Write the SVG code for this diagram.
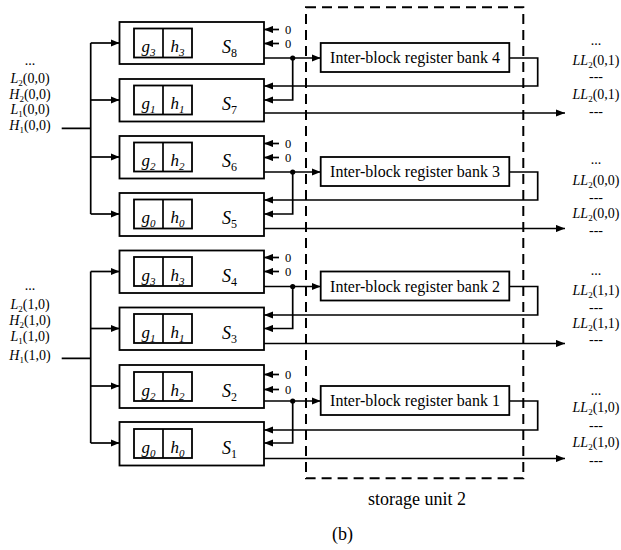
<svg xmlns="http://www.w3.org/2000/svg" width="621" height="550" viewBox="0 0 621 550">
<defs>
<style>
.box{fill:#fff;stroke:#000;stroke-width:1.8}
.ln{fill:none;stroke:#000;stroke-width:1.7}
.ar{fill:none;stroke:#000;stroke-width:1.7;marker-end:url(#ah)}
.t{font-family:"Liberation Serif","Times New Roman",serif;fill:#000}
.it{font-style:italic}
.gh{font-size:17px;text-anchor:middle}
.sn{font-size:18px;text-anchor:middle}
.lab{font-size:14px;text-anchor:middle}
.bank{font-size:16px;text-anchor:middle}
.zero{font-size:12.5px}
.dash{fill:none;stroke:#000;stroke-width:2;stroke-dasharray:10 6}
</style>
<marker id="ah" viewBox="0 0 10 8" refX="10" refY="4" markerWidth="9" markerHeight="7.5" orient="auto" markerUnits="userSpaceOnUse">
<path d="M0,0 L10,4 L0,8 z" fill="#000"/>
</marker>
</defs>
<rect width="621" height="550" fill="#fff"/>

<g id="storage-unit-2">
<rect class="dash" x="306" y="7.3" width="217.3" height="471"/>
<text class="t" x="417" y="505" font-size="18" text-anchor="middle">storage unit 2</text>
</g>

<g id="connectors">
<path class="ln" d="M61.7,128.3 H90.7 M90.7,43 V214"/>
<path class="ar" d="M90.7,43 H119.5"/>
<path class="ar" d="M90.7,100 H119.5"/>
<path class="ar" d="M90.7,157 H119.5"/>
<path class="ar" d="M90.7,214 H119.5"/>
<path class="ln" d="M61.7,358.3 H90.7 M90.7,271.5 V443"/>
<path class="ar" d="M90.7,271.5 H119.5"/>
<path class="ar" d="M90.7,328.5 H119.5"/>
<path class="ar" d="M90.7,386 H119.5"/>
<path class="ar" d="M90.7,443 H119.5"/>

<path class="ar" d="M279,29.5 H264"/>
<path class="ar" d="M279,43.5 H264"/>
<path class="ar" d="M264,58 H320.7"/>
<circle cx="292.7" cy="58" r="2.6" fill="#000"/>
<path class="ar" d="M292.7,58 V100 H264"/>
<path class="ar" d="M509.3,58 H537.7 V86 H264"/>
<path class="ar" d="M264,113 H565"/>

<path class="ar" d="M279,143.5 H264"/>
<path class="ar" d="M279,157.5 H264"/>
<path class="ar" d="M264,172 H320.7"/>
<circle cx="292.7" cy="172" r="2.6" fill="#000"/>
<path class="ar" d="M292.7,172 V214 H264"/>
<path class="ar" d="M509.3,172 H537.7 V200 H264"/>
<path class="ar" d="M264,228.5 H565"/>

<path class="ar" d="M279,257.5 H264"/>
<path class="ar" d="M279,271.5 H264"/>
<path class="ar" d="M264,286.5 H320.7"/>
<circle cx="292.7" cy="286.5" r="2.6" fill="#000"/>
<path class="ar" d="M292.7,286.5 V328.5 H264"/>
<path class="ar" d="M509.3,286.5 H537.7 V315 H264"/>
<path class="ar" d="M264,343.5 H565"/>

<path class="ar" d="M279,374.5 H264"/>
<path class="ar" d="M279,389.5 H264"/>
<path class="ar" d="M264,401 H320.7"/>
<circle cx="292.7" cy="401" r="2.6" fill="#000"/>
<path class="ar" d="M292.7,401 V443 H264"/>
<path class="ar" d="M509.3,401 H537.7 V430 H264"/>
<path class="ar" d="M264,458.5 H565"/>
</g>

<g id="zeros" class="t zero">
<text x="285" y="34">0</text><text x="285" y="48">0</text>
<text x="285" y="148">0</text><text x="285" y="162">0</text>
<text x="285" y="262">0</text><text x="285" y="276">0</text>
<text x="285" y="379">0</text><text x="285" y="394">0</text>
</g>

<g id="S8">
<rect class="box" x="119.5" y="22" width="144.5" height="42"/>
<rect class="box" x="134" y="28.5" width="58" height="29"/><path class="ln" d="M163,28.5 V57.5"/>
<text class="t gh" x="148.5" y="52"><tspan class="it">g</tspan><tspan class="it" font-size="11" dy="4">3</tspan></text>
<text class="t gh" x="177.5" y="52"><tspan class="it">h</tspan><tspan class="it" font-size="11" dy="4">3</tspan></text>
<text class="t sn" x="229.5" y="53"><tspan class="it">S</tspan><tspan font-size="12" dy="4">8</tspan></text>
</g>
<g id="S7">
<rect class="box" x="119.5" y="79" width="144.5" height="42.5"/>
<rect class="box" x="134" y="85.5" width="58" height="29"/><path class="ln" d="M163,85.5 V114.5"/>
<text class="t gh" x="148.5" y="109"><tspan class="it">g</tspan><tspan class="it" font-size="11" dy="4">1</tspan></text>
<text class="t gh" x="177.5" y="109"><tspan class="it">h</tspan><tspan class="it" font-size="11" dy="4">1</tspan></text>
<text class="t sn" x="229.5" y="110"><tspan class="it">S</tspan><tspan font-size="12" dy="4">7</tspan></text>
</g>
<g id="S6">
<rect class="box" x="119.5" y="136" width="144.5" height="42.5"/>
<rect class="box" x="134" y="142.5" width="58" height="29"/><path class="ln" d="M163,142.5 V171.5"/>
<text class="t gh" x="148.5" y="166"><tspan class="it">g</tspan><tspan class="it" font-size="11" dy="4">2</tspan></text>
<text class="t gh" x="177.5" y="166"><tspan class="it">h</tspan><tspan class="it" font-size="11" dy="4">2</tspan></text>
<text class="t sn" x="229.5" y="167"><tspan class="it">S</tspan><tspan font-size="12" dy="4">6</tspan></text>
</g>
<g id="S5">
<rect class="box" x="119.5" y="193" width="144.5" height="43"/>
<rect class="box" x="134" y="199.5" width="58" height="29"/><path class="ln" d="M163,199.5 V228.5"/>
<text class="t gh" x="148.5" y="223"><tspan class="it">g</tspan><tspan class="it" font-size="11" dy="4">0</tspan></text>
<text class="t gh" x="177.5" y="223"><tspan class="it">h</tspan><tspan class="it" font-size="11" dy="4">0</tspan></text>
<text class="t sn" x="229.5" y="224"><tspan class="it">S</tspan><tspan font-size="12" dy="4">5</tspan></text>
</g>
<g id="S4">
<rect class="box" x="119.5" y="250.5" width="144.5" height="42.5"/>
<rect class="box" x="134" y="257" width="58" height="29"/><path class="ln" d="M163,257 V286"/>
<text class="t gh" x="148.5" y="280.5"><tspan class="it">g</tspan><tspan class="it" font-size="11" dy="4">3</tspan></text>
<text class="t gh" x="177.5" y="280.5"><tspan class="it">h</tspan><tspan class="it" font-size="11" dy="4">3</tspan></text>
<text class="t sn" x="229.5" y="281.5"><tspan class="it">S</tspan><tspan font-size="12" dy="4">4</tspan></text>
</g>
<g id="S3">
<rect class="box" x="119.5" y="307.5" width="144.5" height="42.5"/>
<rect class="box" x="134" y="314" width="58" height="29"/><path class="ln" d="M163,314 V343"/>
<text class="t gh" x="148.5" y="337.5"><tspan class="it">g</tspan><tspan class="it" font-size="11" dy="4">1</tspan></text>
<text class="t gh" x="177.5" y="337.5"><tspan class="it">h</tspan><tspan class="it" font-size="11" dy="4">1</tspan></text>
<text class="t sn" x="229.5" y="338.5"><tspan class="it">S</tspan><tspan font-size="12" dy="4">3</tspan></text>
</g>
<g id="S2">
<rect class="box" x="119.5" y="365" width="144.5" height="43"/>
<rect class="box" x="134" y="372" width="58" height="29"/><path class="ln" d="M163,372 V401"/>
<text class="t gh" x="148.5" y="395.5"><tspan class="it">g</tspan><tspan class="it" font-size="11" dy="4">2</tspan></text>
<text class="t gh" x="177.5" y="395.5"><tspan class="it">h</tspan><tspan class="it" font-size="11" dy="4">2</tspan></text>
<text class="t sn" x="229.5" y="396.5"><tspan class="it">S</tspan><tspan font-size="12" dy="4">2</tspan></text>
</g>
<g id="S1">
<rect class="box" x="119.5" y="422" width="144.5" height="43.5"/>
<rect class="box" x="134" y="429" width="58" height="29"/><path class="ln" d="M163,429 V458"/>
<text class="t gh" x="148.5" y="452.5"><tspan class="it">g</tspan><tspan class="it" font-size="11" dy="4">0</tspan></text>
<text class="t gh" x="177.5" y="452.5"><tspan class="it">h</tspan><tspan class="it" font-size="11" dy="4">0</tspan></text>
<text class="t sn" x="229.5" y="453.5"><tspan class="it">S</tspan><tspan font-size="12" dy="4">1</tspan></text>
</g>

<g id="bank4">
<rect class="box" x="320.7" y="43" width="188.6" height="29"/>
<text class="t bank" x="415" y="63">Inter-block register bank 4</text>
</g>
<g id="bank3">
<rect class="box" x="320.7" y="157" width="188.6" height="29"/>
<text class="t bank" x="415" y="177">Inter-block register bank 3</text>
</g>
<g id="bank2">
<rect class="box" x="320.7" y="271.5" width="188.6" height="29"/>
<text class="t bank" x="415" y="291.5">Inter-block register bank 2</text>
</g>
<g id="bank1">
<rect class="box" x="320.7" y="386" width="188.6" height="29"/>
<text class="t bank" x="415" y="406">Inter-block register bank 1</text>
</g>

<g id="inputs-top" class="t lab">
<text x="30" y="64.5">...</text>
<text x="30" y="83"><tspan class="it">L</tspan><tspan font-size="9" dy="3">2</tspan><tspan dy="-3">(0,0)</tspan></text>
<text x="30" y="98.5"><tspan class="it">H</tspan><tspan font-size="9" dy="3">2</tspan><tspan dy="-3">(0,0)</tspan></text>
<text x="30" y="114"><tspan class="it">L</tspan><tspan font-size="9" dy="3">1</tspan><tspan dy="-3">(0,0)</tspan></text>
<text x="30" y="129.5"><tspan class="it">H</tspan><tspan font-size="9" dy="3">1</tspan><tspan dy="-3">(0,0)</tspan></text>
</g>
<g id="inputs-bottom" class="t lab">
<text x="30" y="289.5">...</text>
<text x="30" y="308.5"><tspan class="it">L</tspan><tspan font-size="9" dy="3">2</tspan><tspan dy="-3">(1,0)</tspan></text>
<text x="30" y="324.5"><tspan class="it">H</tspan><tspan font-size="9" dy="3">2</tspan><tspan dy="-3">(1,0)</tspan></text>
<text x="30" y="341"><tspan class="it">L</tspan><tspan font-size="9" dy="3">1</tspan><tspan dy="-3">(1,0)</tspan></text>
<text x="30" y="359.5"><tspan class="it">H</tspan><tspan font-size="9" dy="3">1</tspan><tspan dy="-3">(1,0)</tspan></text>
</g>

<g id="outputs-4" class="t lab">
<text x="596" y="45">...</text>
<text x="596" y="64.5"><tspan class="it">LL</tspan><tspan font-size="9" dy="3">2</tspan><tspan dy="-3">(0,1)</tspan></text>
<text x="596" y="81">---</text>
<text x="596" y="98.5"><tspan class="it">LL</tspan><tspan font-size="9" dy="3">2</tspan><tspan dy="-3">(0,1)</tspan></text>
<text x="596" y="115.5">---</text>
</g>
<g id="outputs-3" class="t lab">
<text x="596" y="164">...</text>
<text x="596" y="185"><tspan class="it">LL</tspan><tspan font-size="9" dy="3">2</tspan><tspan dy="-3">(0,0)</tspan></text>
<text x="596" y="201.5">---</text>
<text x="596" y="217.5"><tspan class="it">LL</tspan><tspan font-size="9" dy="3">2</tspan><tspan dy="-3">(0,0)</tspan></text>
<text x="596" y="235">---</text>
</g>
<g id="outputs-2" class="t lab">
<text x="596" y="274.5">...</text>
<text x="596" y="294.5"><tspan class="it">LL</tspan><tspan font-size="9" dy="3">2</tspan><tspan dy="-3">(1,1)</tspan></text>
<text x="596" y="312">---</text>
<text x="596" y="328"><tspan class="it">LL</tspan><tspan font-size="9" dy="3">2</tspan><tspan dy="-3">(1,1)</tspan></text>
<text x="596" y="343.5">---</text>
</g>
<g id="outputs-1" class="t lab">
<text x="596" y="395">...</text>
<text x="596" y="412"><tspan class="it">LL</tspan><tspan font-size="9" dy="3">2</tspan><tspan dy="-3">(1,0)</tspan></text>
<text x="596" y="430">---</text>
<text x="596" y="446.5"><tspan class="it">LL</tspan><tspan font-size="9" dy="3">2</tspan><tspan dy="-3">(1,0)</tspan></text>
<text x="596" y="464.5">---</text>
</g>

<g id="caption">
<text class="t" x="342.5" y="540" font-size="18" text-anchor="middle">(b)</text>
</g>
</svg>
